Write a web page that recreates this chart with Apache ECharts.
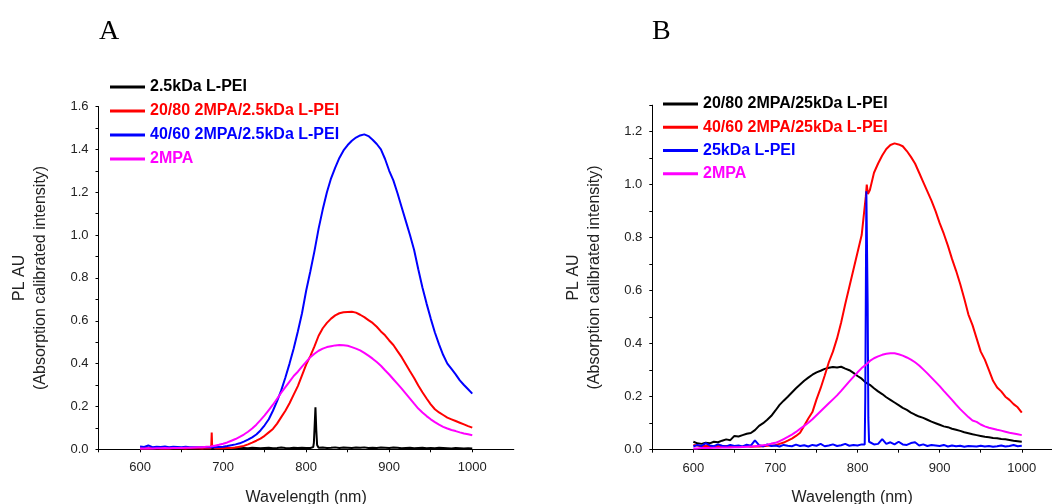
<!DOCTYPE html>
<html>
<head>
<meta charset="utf-8">
<script src="https://cdn.jsdelivr.net/npm/echarts@6/dist/echarts.min.js"></script>
<style>
html,body{margin:0;padding:0;background:#fff;}
#chart{width:1052px;height:504px;}
</style>
</head>
<body>
<div id="chart"></div>
<script>
// Wavelength grid (nm), 5 nm steps
const WL = [600,605,610,615,620,625,630,635,640,645,650,655,660,665,670,675,680,685,690,695,
  700,705,710,715,720,725,730,735,740,745,750,755,760,765,770,775,780,785,790,795,
  800,805,810,815,820,825,830,835,840,845,850,855,860,865,870,875,880,885,890,895,
  900,905,910,915,920,925,930,935,940,945,950,955,960,965,970,975,980,985,990,995,1000];

// Panel A
const A_names = ['2.5kDa L-PEI','20/80 2MPA/2.5kDa L-PEI','40/60 2MPA/2.5kDa L-PEI','2MPA'];
const A_black = [0.004,0.005,0.004,0.006,0.005,0.004,0.005,0.006,0.004,0.005,
  0.005,0.004,0.006,0.005,0.004,0.005,0.006,0.005,0.004,0.006,
  0.005,0.006,0.004,0.007,0.005,0.006,0.005,0.007,0.006,0.005,
  0.006,0.007,0.005,0.006,0.008,0.006,0.005,0.007,0.006,0.007,
  0.006,0.006,0.09,0.007,0.008,0.006,0.007,0.009,0.006,0.008,
  0.007,0.006,0.008,0.007,0.009,0.006,0.007,0.006,0.008,0.007,
  0.006,0.008,0.007,0.005,0.006,0.007,0.005,0.006,0.007,0.005,
  0.006,0.005,0.007,0.006,0.005,0.004,0.006,0.005,0.004,0.005,0.004];
const A_blackSpikeWl = [808.5,809.3,811.2,812.2,813.2];
const A_blackSpikeV = [0.01,0.03,0.196,0.09,0.02];
const A_red = [0.004,0.005,0.004,0.005,0.006,0.004,0.005,0.004,0.006,0.005,
  0.005,0.004,0.006,0.005,0.005,0.004,0.006,0.005,0.005,0.006,
  0.005,0.006,0.006,0.008,0.012,0.016,0.023,0.031,0.04,0.05,
  0.063,0.079,0.095,0.12,0.15,0.18,0.215,0.255,0.295,0.345,
  0.395,0.435,0.48,0.53,0.565,0.59,0.61,0.625,0.635,0.64,
  0.641,0.642,0.638,0.628,0.617,0.603,0.59,0.572,0.55,0.532,
  0.508,0.487,0.458,0.43,0.397,0.364,0.333,0.298,0.266,0.237,
  0.21,0.187,0.172,0.16,0.148,0.14,0.132,0.124,0.116,0.108,0.101];
const A_redSpikeWl = [685.8,686.3,686.8];
const A_redSpikeV = [0.02,0.078,0.02];
const A_blue = [0.013,0.011,0.018,0.010,0.012,0.011,0.013,0.010,0.012,0.011,
  0.010,0.012,0.010,0.009,0.010,0.009,0.010,0.009,0.010,0.011,
  0.012,0.015,0.019,0.023,0.028,0.036,0.045,0.056,0.069,0.088,
  0.112,0.14,0.18,0.225,0.275,0.335,0.40,0.47,0.55,0.635,
  0.74,0.83,0.925,1.03,1.12,1.2,1.265,1.315,1.36,1.395,
  1.42,1.44,1.455,1.465,1.47,1.462,1.445,1.425,1.40,1.355,
  1.30,1.255,1.195,1.13,1.065,1.0,0.93,0.84,0.755,0.68,
  0.61,0.545,0.49,0.44,0.40,0.375,0.35,0.322,0.30,0.28,0.26];
const A_mag = [0.004,0.004,0.005,0.004,0.005,0.005,0.006,0.005,0.006,0.006,
  0.006,0.007,0.007,0.008,0.009,0.010,0.012,0.013,0.017,0.021,
  0.026,0.032,0.04,0.048,0.058,0.069,0.082,0.097,0.115,0.136,
  0.158,0.183,0.208,0.236,0.264,0.29,0.316,0.342,0.362,0.386,
  0.408,0.43,0.446,0.46,0.47,0.477,0.481,0.485,0.487,0.486,
  0.483,0.477,0.47,0.462,0.45,0.437,0.423,0.407,0.39,0.369,
  0.349,0.327,0.305,0.283,0.26,0.237,0.213,0.19,0.172,0.155,
  0.14,0.127,0.115,0.105,0.097,0.09,0.085,0.079,0.074,0.07,0.066];

// Panel B
const B_names = ['20/80 2MPA/25kDa L-PEI','40/60 2MPA/25kDa L-PEI','25kDa L-PEI','2MPA'];
const B_black = [0.03,0.024,0.022,0.026,0.024,0.03,0.028,0.034,0.039,0.036,
  0.052,0.05,0.055,0.06,0.063,0.074,0.09,0.1,0.113,0.128,
  0.148,0.169,0.185,0.2,0.216,0.232,0.246,0.26,0.272,0.283,
  0.292,0.298,0.305,0.309,0.312,0.31,0.313,0.306,0.3,0.29,
  0.278,0.268,0.253,0.245,0.232,0.22,0.21,0.198,0.188,0.178,
  0.168,0.158,0.15,0.14,0.132,0.125,0.12,0.113,0.106,0.1,
  0.094,0.088,0.085,0.079,0.075,0.071,0.066,0.062,0.058,0.055,
  0.052,0.049,0.047,0.044,0.043,0.04,0.039,0.037,0.034,0.032,0.03];
const B_red = [0.018,0.016,0.012,0.015,0.014,0.012,0.015,0.013,0.014,0.012,
  0.013,0.011,0.012,0.014,0.011,0.012,0.012,0.013,0.015,0.016,
  0.017,0.022,0.027,0.034,0.042,0.052,0.064,0.09,0.118,0.142,
  0.19,0.232,0.28,0.33,0.37,0.42,0.48,0.55,0.615,0.68,
  0.745,0.81,0.955,0.98,1.045,1.08,1.11,1.135,1.15,1.156,
  1.152,1.145,1.127,1.105,1.08,1.045,1.01,0.975,0.94,0.9,
  0.855,0.815,0.77,0.72,0.675,0.625,0.57,0.51,0.47,0.42,
  0.37,0.34,0.3,0.26,0.235,0.22,0.2,0.188,0.172,0.16,0.14];
const B_redBumpWl = [811.2,812.6];
const B_redBumpV = [1.0,0.965];
const B_blue = [0.012,0.018,0.014,0.025,0.016,0.013,0.02,0.015,0.012,0.018,
  0.014,0.016,0.012,0.019,0.015,0.035,0.017,0.013,0.02,0.014,
  0.016,0.012,0.018,0.015,0.013,0.019,0.014,0.017,0.012,0.018,
  0.015,0.022,0.013,0.016,0.02,0.014,0.017,0.022,0.015,0.018,
  0.016,0.02,0.55,0.025,0.02,0.022,0.04,0.022,0.028,0.02,
  0.03,0.02,0.018,0.025,0.028,0.016,0.02,0.014,0.018,0.016,
  0.014,0.018,0.012,0.016,0.013,0.015,0.011,0.014,0.013,0.012,
  0.015,0.012,0.014,0.011,0.013,0.016,0.012,0.014,0.018,0.013,0.015];
const B_blueSpikeWl = [808.7,809.4,810.7,811.5,812.3,813.1,814.0];
const B_blueSpikeV = [0.02,0.2,0.975,0.975,0.55,0.12,0.03];
const B_mag = [0.005,0.005,0.006,0.006,0.006,0.007,0.007,0.008,0.008,0.008,
  0.009,0.009,0.01,0.011,0.012,0.013,0.015,0.017,0.019,0.023,
  0.026,0.032,0.04,0.048,0.057,0.067,0.079,0.09,0.102,0.115,
  0.13,0.145,0.16,0.175,0.19,0.205,0.222,0.24,0.258,0.275,
  0.292,0.308,0.32,0.335,0.345,0.352,0.358,0.362,0.364,0.364,
  0.36,0.355,0.348,0.34,0.33,0.318,0.303,0.288,0.272,0.256,
  0.24,0.222,0.205,0.188,0.17,0.153,0.138,0.123,0.11,0.105,
  0.095,0.088,0.083,0.079,0.075,0.072,0.068,0.064,0.061,0.058,0.055];

const COLORS = ['#000000','#ff0000','#0000ff','#ff00ff'];

function pairs(wl, vals, exWl, exV) {
  const d = wl.map((w, i) => [w, vals[i]]);
  if (exWl) exWl.forEach((w, i) => d.push([w, exV[i]]));
  d.sort((a, b) => a[0] - b[0]);
  return d;
}

const FONT = 'Liberation Sans, Arial, sans-serif';

function xAxis(gi, max) {
  return {
    type: 'value', gridIndex: gi, min: 550, max: max, interval: 50,
    axisLine: {show: true, onZero: false, lineStyle: {color: '#000', width: 1}},
    axisTick: {show: true, inside: false, length: 3, lineStyle: {color: '#000'}},
    axisLabel: {
      color: '#222', fontSize: 13, fontFamily: FONT, margin: 12,
      showMaxLabel: false,
      formatter: v => (v % 100 === 0 && v >= 600 && v <= 1000) ? String(v) : ''
    },
    splitLine: {show: false},
    name: 'Wavelength (nm)', nameLocation: 'middle', nameGap: 40,
    nameTextStyle: {color: '#222', fontSize: 16, fontFamily: FONT}
  };
}
function yAxis(gi, max) {
  return {
    type: 'value', gridIndex: gi, min: 0, max: max, interval: 0.1,
    axisLine: {show: true, onZero: false, lineStyle: {color: '#000', width: 1}},
    axisTick: {show: true, inside: false, length: 3, lineStyle: {color: '#000'}},
    axisLabel: {
      color: '#222', fontSize: 13, fontFamily: FONT, margin: 10,
      formatter: v => (Math.round(v * 10) % 2 === 0) ? v.toFixed(1) : ''
    },
    splitLine: {show: false},
    name: 'PL AU\n(Absorption calibrated intensity)', nameLocation: 'middle', nameGap: 47,
    nameTextStyle: {color: '#222', fontSize: 16, fontFamily: FONT, lineHeight: 21}
  };
}
function line(name, data, xi, color) {
  return {
    name: name, type: 'line', xAxisIndex: xi, yAxisIndex: xi, data: data,
    showSymbol: false, symbol: 'none', smooth: false, animation: false,
    lineStyle: {color: color, width: 2}, itemStyle: {color: color}
  };
}
function legend(names, left, top, lh) {
  return {
    orient: 'vertical', left: left, top: top, itemWidth: 35, itemHeight: 3,
    itemGap: 0, icon: 'rect', selectedMode: false,
    data: names.map((n, i) => ({name: n, itemStyle: {color: COLORS[i]},
      textStyle: {color: COLORS[i], fontWeight: 'bold', fontSize: 16, fontFamily: FONT, lineHeight: lh}})),
    textStyle: {fontWeight: 'bold', fontSize: 16, fontFamily: FONT, lineHeight: lh}
  };
}

const chart = echarts.init(document.getElementById('chart'), null, {renderer: 'canvas'});
chart.setOption({
  animation: false,
  backgroundColor: '#fff',
  title: [
    {text: 'A', left: 94, top: 13, textStyle: {fontFamily: 'Liberation Serif, Times New Roman, serif', fontSize: 28, fontWeight: 'normal', color: '#000'}},
    {text: 'B', left: 647, top: 13, textStyle: {fontFamily: 'Liberation Serif, Times New Roman, serif', fontSize: 28, fontWeight: 'normal', color: '#000'}}
  ],
  grid: [
    {left: 98.5, top: 106.5, width: 415.3, height: 342.8, containLabel: false, outerBoundsMode: 'none'},
    {left: 652.3, top: 105.2, right: 0, height: 344.5, containLabel: false, outerBoundsMode: 'none'}
  ],
  xAxis: [xAxis(0, 1050), xAxis(1, 1036.8)],
  yAxis: [yAxis(0, 1.6), yAxis(1, 1.3)],
  legend: [legend(A_names, 105, 70, 24), legend(B_names, 658, 87.3, 23.3)],
  series: [
    line(A_names[0], pairs(WL, A_black, A_blackSpikeWl, A_blackSpikeV), 0, COLORS[0]),
    line(A_names[1], pairs(WL, A_red, A_redSpikeWl, A_redSpikeV), 0, COLORS[1]),
    line(A_names[2], pairs(WL, A_blue), 0, COLORS[2]),
    line(A_names[3], pairs(WL, A_mag), 0, COLORS[3]),
    line(B_names[0], pairs(WL, B_black), 1, COLORS[0]),
    line(B_names[1], pairs(WL, B_red, B_redBumpWl, B_redBumpV), 1, COLORS[1]),
    line(B_names[2], pairs(WL, B_blue, B_blueSpikeWl, B_blueSpikeV), 1, COLORS[2]),
    line(B_names[3], pairs(WL, B_mag), 1, COLORS[3])
  ]
});
</script>
</body>
</html>
